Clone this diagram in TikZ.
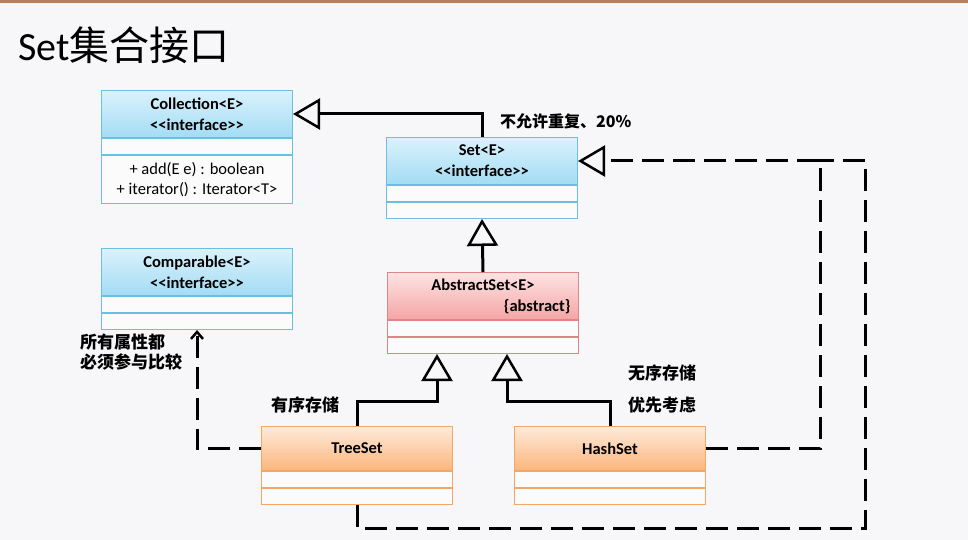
\documentclass[tikz,border=0pt]{standalone}
\usepackage{fontspec}
\setmainfont{Carlito}
\newfontfamily\cjk{Noto Sans CJK SC}
\usetikzlibrary{arrows.meta,calc,positioning}
\definecolor{slBg}{HTML}{F7F7F9}
\definecolor{slRule}{HTML}{B5805A}
\definecolor{ifTop}{HTML}{DAF2FC}
\definecolor{ifBot}{HTML}{A3DCF4}
\definecolor{ifLine}{HTML}{6BBFE0}
\definecolor{abTop}{HTML}{FDE3E3}
\definecolor{abBot}{HTML}{F5A5A5}
\definecolor{abLine}{HTML}{DE8585}
\definecolor{clTop}{HTML}{FEEBDA}
\definecolor{clBot}{HTML}{FBB57C}
\definecolor{clLine}{HTML}{F2A765}
\tikzset{
 uml/.style={line cap=butt,line join=miter},
 head/.style={rectangle,minimum width=191pt,text width=175pt,align=center,minimum height=47pt,
   inner sep=0pt,line width=1pt,font=\fontsize{16.5}{21}\selectfont\bfseries},
 ifhead/.style={head,draw=ifLine,top color=ifTop,bottom color=ifBot},
 abhead/.style={head,draw=abLine,top color=abTop,bottom color=abBot},
 clhead/.style={head,draw=clLine,top color=clTop,bottom color=clBot,minimum height=44pt},
 compart/.style={rectangle,draw=#1,fill=white!55!slBg,minimum width=191pt,minimum height=16pt,
   inner sep=0pt,line width=1pt,align=center,font=\fontsize{16.5}{20}\selectfont},
 gen/.style={draw=black,line width=3pt,-{Triangle[open,length=27pt,width=31pt,line width=2.5pt]}},
 real/.style={draw=black,line width=3pt,dash pattern=on 22pt off 9pt},
 impl/.style={real,-{Triangle[open,length=27pt,width=31pt,line width=2.5pt]}},
 use/.style={real,-{Straight Barb[length=7pt,width=12pt,line width=2.5pt]}},
 note/.style={font=\cjk\bfseries\fontsize{17}{20}\selectfont,anchor=west,align=left,inner sep=0pt},
 slide/.style={font=\fontsize{40}{48}\selectfont,anchor=west,inner sep=0pt}
}

\begin{document}
\begin{tikzpicture}[uml,x=1pt,y=-1pt]
 \useasboundingbox (0,0) rectangle (968,540);
 \fill[slBg] (0,0) rectangle (968,540);
 \fill[slRule] (0,0) rectangle (968,3);
 \node[slide] (title) at (18,45) {Set{\cjk 集合接口}};
 % interfaces
 \node[ifhead,anchor=north west] (coll) at (101,90) {Collection<E>\\<{}<interface>{}>};
 \node[compart=ifLine,below=0pt of coll] (collA) {};
 \node[compart=ifLine,below=0pt of collA,minimum height=48pt] (collO) {+ add(E e) : boolean\\+ iterator() : Iterator<T>};
 \node[ifhead,anchor=north west] (set) at (386,137) {Set<E>\\<{}<interface>{}>};
 \node[compart=ifLine,below=0pt of set] (setA) {};
 \node[compart=ifLine,below=0pt of setA] (setO) {};
 \node[ifhead,anchor=north west] (comp) at (101,248) {Comparable<E>\\<{}<interface>{}>};
 \node[compart=ifLine,below=0pt of comp] (compA) {};
 \node[compart=ifLine,below=0pt of compA] (compO) {};
 % classes
 \node[abhead,anchor=north west] (abs) at (387,272) {AbstractSet<E>\\\makebox[175pt][r]{\{abstract\}}};
 \node[compart=abLine,below=0pt of abs] (absA) {};
 \node[compart=abLine,below=0pt of absA] (absO) {};
 \node[clhead,anchor=north west] (tree) at (261,426) {TreeSet};
 \node[compart=clLine,below=0pt of tree] (treeA) {};
 \node[compart=clLine,below=0pt of treeA] (treeO) {};
 \node[clhead,anchor=north west] (hash) at (514,426) {HashSet};
 \node[compart=clLine,below=0pt of hash] (hashA) {};
 \node[compart=clLine,below=0pt of hashA] (hashO) {};
 % notes
 \node[note,font=\cjk\bfseries\fontsize{16}{20}\selectfont] (setNote) at (500,121) {不允许重复、20\%};
 \node[note] (compNote) at (80,352) {所有属性都\\必须参与比较};
 \node[note] (treeNote) at (271,405) {有序存储};
 \node[note,font=\cjk\bfseries\fontsize{17}{32}\selectfont] (hashNote) at (628,389) {无序存储\\优先考虑};
 % connectors
 \coordinate (loopTop) at (865,160.5);
 \draw[gen] (set.north) |- (coll.east);
 \draw[gen] (abs.north) -- (setO.south);
 \draw[gen] (tree.north) -- ++(0,-25) -| ([xshift=-46pt]absO.south);
 \draw[gen] (hash.north) -- ++(0,-25) -| ([xshift=24pt]absO.south);
 \draw[impl] (hash.east) -- ++(114,0) |- (set.east);
 \draw[real] (treeO.south) -- ++(0,23) -| (loopTop) -- ++(-46,0);
 \draw[use] (tree.west) -| (compO.south);
\end{tikzpicture}
\end{document}
